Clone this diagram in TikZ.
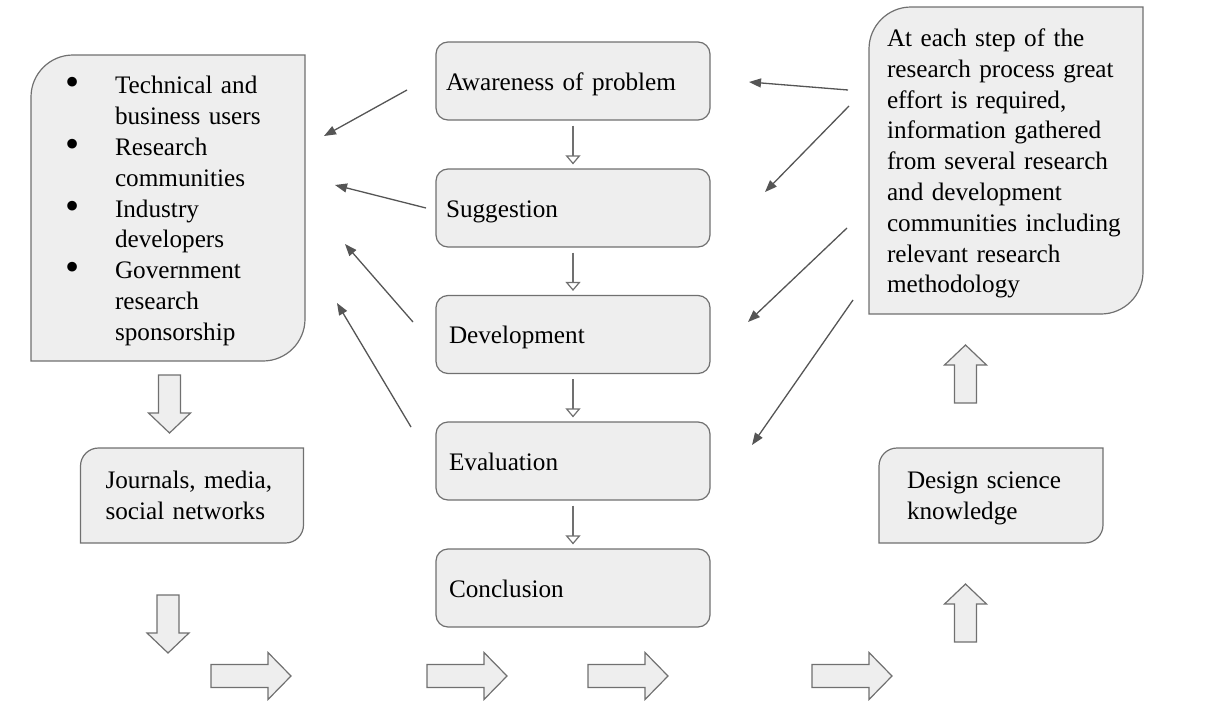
\documentclass[tikz,border=0pt]{standalone}
\usepackage{fontspec}
\setmainfont{Liberation Serif}
\usepackage{graphicx}
\usetikzlibrary{arrows.meta,calc,backgrounds}

\definecolor{boxfill}{RGB}{238,238,238}
\definecolor{boxline}{RGB}{112,112,112}
\definecolor{linkcol}{RGB}{85,85,85}

% outline with rounded top-left and bottom-right corners around a named node
% #1 node, #2 corner radius, #3 upward offset of the outline against the node
\newcommand\leafoutline[3]{%
  \path[leafline] let \p1=($(#1.north west)+(0,-#3)$), \p2=($(#1.south east)+(0,-#3)$) in
    (\x1,\y1-#2pt) .. controls (\x1,\y1-0.448*#2pt) and (\x1+0.448*#2pt,\y1) .. (\x1+#2pt,\y1)
    -- (\x2,\y1) -- (\x2,\y2+#2pt)
    .. controls (\x2,\y2+0.448*#2pt) and (\x2-0.448*#2pt,\y2) .. (\x2-#2pt,\y2)
    -- (\x1,\y2) -- cycle;}

% bullet mark for the stakeholder list
\newcommand\bulletmark{\makebox[47pt][l]{\hspace*{-3pt}\raisebox{-2pt}{\scalebox{1.6}{\textbullet}}}}

\tikzset{
  leafline/.style={draw=boxline, fill=boxfill, line width=1.2pt},
  fatline/.style={draw=boxline, fill=boxfill, line width=1.2pt, line join=miter},
  pics/longarrow/.style={code={\draw[fatline] (0,-11.5) -- (57,-11.5) -- (57,-23.5) -- (80,0) -- (57,23.5) -- (57,11.5) -- (0,11.5) -- cycle;}},
  pics/shortarrow/.style={code={\draw[fatline] (0,-11) -- (38,-11) -- (38,-21) -- (58,0) -- (38,21) -- (38,11) -- (0,11) -- cycle;}},
}

\begin{document}
\begin{tikzpicture}[x=1pt,y=-1pt,
  every node/.style={font=\fontsize{25.2pt}{30.8pt}\selectfont, text=black},
  leafbox/.style={draw=none, outer sep=0pt, inner ysep=0pt, align=left},
  stepbox/.style={draw=boxline, fill=boxfill, line width=1.2pt, rounded corners=12pt,
    minimum width=274pt, minimum height=78pt, inner ysep=0pt,
    text height=21pt, text depth=2.3pt,
    inner xsep=13pt, text width=248pt, align=left},
  stepflow/.style={draw=boxline, line width=1.2pt,
    -{Triangle[open,length=9pt,width=15pt]}, shorten <=5pt, shorten >=4pt},
  link/.style={draw=linkcol, line width=1.3pt, -{Triangle[length=12pt,width=9pt]}}]

\useasboundingbox (0,0) rectangle (1210,704);

% process steps
\node[stepbox, inner xsep=10pt, text width=254pt] (aware) at (573,81) {Awareness of problem};
\node[stepbox, inner xsep=10pt, text width=254pt] (sugg) at (573,208) {Suggestion};
\node[stepbox] (devel) at (573,334.5) {Development};
\node[stepbox] (evalu) at (573,461) {Evaluation};
\node[stepbox] (concl) at (573,588) {Conclusion};

\draw[stepflow] (aware) -- (sugg);
\draw[stepflow] (sugg) -- (devel);
\draw[stepflow] (devel) -- (evalu);
\draw[stepflow] (evalu) -- (concl);

% stakeholders
\node[leafbox, minimum width=274pt, minimum height=306pt, inner xsep=37pt, text width=200pt]
  (stake) at (168,211) {%
  \begin{tabular}{@{}l@{}l@{}}
    \bulletmark & Technical and\\
                & business users\\
    \bulletmark & Research\\
                & communities\\
    \bulletmark & Industry\\
                & developers\\
    \bulletmark & Government\\
                & research\\
                & sponsorship
  \end{tabular}};

% knowledge base
\node[leafbox, minimum width=274pt, minimum height=307pt, inner xsep=18pt, text width=238pt]
  (effort) at (1006,163.5) {At each step of the\\ research process great\\ effort is required,\\
  information gathered\\ from several research\\ and development\\
  communities including\\ relevant research\\ methodology};

\node[leafbox, minimum width=223pt, minimum height=95pt, inner xsep=25pt, text width=173pt]
  (media) at (192,495.5) {Journals, media,\\ social networks};

\node[leafbox, minimum width=224pt, minimum height=95pt, inner xsep=28pt, text width=168pt]
  (dsk) at (991,498) {Design science\\ knowledge};

\begin{scope}[on background layer]
  \leafoutline{stake}{42}{3}
  \leafoutline{effort}{42}{3}
  \leafoutline{media}{18}{0}
  \leafoutline{dsk}{18}{2.5}
\end{scope}

% feedback from the steps to the stakeholders
\coordinate (ls1) at (407,90);  \coordinate (le1) at (324,136);
\coordinate (ls2) at (426,208); \coordinate (le2) at (335,185);
\coordinate (ls3) at (413,322); \coordinate (le3) at (345,244);
\coordinate (ls4) at (411,427); \coordinate (le4) at (337,303);
\foreach \i in {1,...,4} \draw[link] (ls\i) -- (le\i);

% input from the knowledge base to the steps
\coordinate (rs1) at (848,90);  \coordinate (re1) at (749,82);
\coordinate (rs2) at (849,106); \coordinate (re2) at (765,192);
\coordinate (rs3) at (847,228); \coordinate (re3) at (748,322);
\coordinate (rs4) at (853,300); \coordinate (re4) at (752,445);
\foreach \i in {1,...,4} \draw[link] (rs\i) -- (re\i);

% block arrows
\pic[rotate=-90] at (169.5,375) {shortarrow};
\pic[rotate=-90] at (168,595) {shortarrow};
\pic at (211,676) {longarrow};
\pic at (427,676) {longarrow};
\pic at (588,676) {longarrow};
\pic at (812,676) {longarrow};
\pic[rotate=90] at (965.5,642) {shortarrow};
\pic[rotate=90] at (965.5,403) {shortarrow};

\end{tikzpicture}
\end{document}
